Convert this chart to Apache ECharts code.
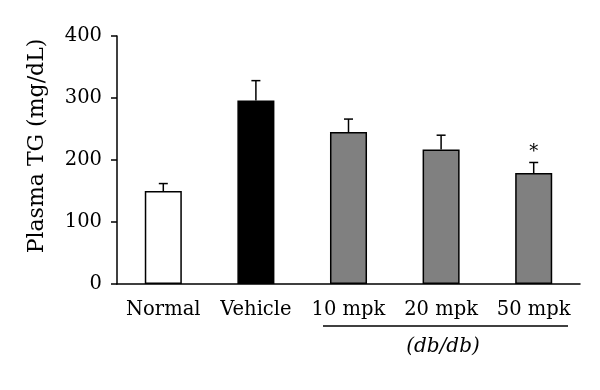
<!DOCTYPE html>
<html><head><meta charset="utf-8">
<script src="https://cdn.jsdelivr.net/npm/echarts@6/dist/echarts.min.js"></script>
<style>html,body{margin:0;padding:0;background:#fff}#c{width:600px;height:390px}</style>
</head><body><div id="c"></div>
<script>
var categories = ['Normal', 'Vehicle', '10 mpk', '20 mpk', '50 mpk'];
var means = [150, 296, 245, 217, 179];
var errors = [12, 32, 21, 23, 17];
var barColors = ['#ffffff', '#000000', '#808080', '#808080', '#808080'];
var significance = ['', '', '', '', '*'];
var yTicks = [0, 100, 200, 300, 400];

var FONT = '"DejaVu Serif", "Liberation Serif", serif';
var chart = echarts.init(document.getElementById('c'), null, {renderer: 'canvas'});

var option = {
  animation: false,
  backgroundColor: '#fff',
  grid: {left: 117, right: 20, top: 36, bottom: 106, containLabel: false},
  xAxis: {
    type: 'category',
    data: categories,
    axisLine: {lineStyle: {color: '#000', width: 1.5}},
    axisTick: {show: false},
    axisLabel: {color: '#000', fontFamily: FONT, fontSize: 19.5, margin: 16, interval: 0, hideOverlap: false}
  },
  yAxis: {
    type: 'value',
    min: yTicks[0], max: yTicks[yTicks.length - 1], interval: 100,
    axisLine: {show: true, lineStyle: {color: '#000', width: 1.5}},
    axisTick: {show: true, inside: false, length: 6, lineStyle: {color: '#000', width: 1.5}},
    splitLine: {show: false},
    axisLabel: {color: '#000', fontFamily: FONT, fontSize: 19.5, margin: 15}
  },
  series: [
    {
      type: 'bar',
      barWidth: '40%',
      data: means.map(function (v, i) {
        return {value: v, itemStyle: {color: barColors[i], borderColor: '#000', borderWidth: 1.5}};
      })
    },
    {
      type: 'custom',
      data: means.map(function (v, i) { return [i, v, v + errors[i], significance[i]]; }),
      renderItem: function (params, api) {
        var x = api.value(0);
        var top = api.coord([x, api.value(1)]);
        var end = api.coord([x, api.value(2)]);
        var half = 4.5;
        var children = [
          {type: 'line', shape: {x1: top[0], y1: top[1], x2: end[0], y2: end[1]}, style: {stroke: '#000', lineWidth: 1.5}},
          {type: 'line', shape: {x1: end[0] - half, y1: end[1], x2: end[0] + half, y2: end[1]}, style: {stroke: '#000', lineWidth: 1.5}}
        ];
        var sig = api.value(3);
        if (sig) {
          children.push({type: 'text', x: end[0], y: end[1] - 10, style: {text: sig, fill: '#000', font: '18px ' + FONT, align: 'center', verticalAlign: 'middle'}});
        }
        return {type: 'group', children: children};
      },
      z: 5
    }
  ],
  graphic: [
    {type: 'text', x: 37, y: 146, rotation: Math.PI / 2, style: {text: 'Plasma TG (mg/dL)', fill: '#000', font: '22px ' + FONT, align: 'center', verticalAlign: 'middle'}},
    {type: 'line', shape: {x1: 323, y1: 326, x2: 568, y2: 326}, style: {stroke: '#000', lineWidth: 1.5}},
    {type: 'text', x: 443, y: 347, style: {text: '(db/db)', fill: '#000', font: 'italic 20px ' + FONT, align: 'center', verticalAlign: 'middle'}}
  ]
};
chart.setOption(option);
</script></body></html>
